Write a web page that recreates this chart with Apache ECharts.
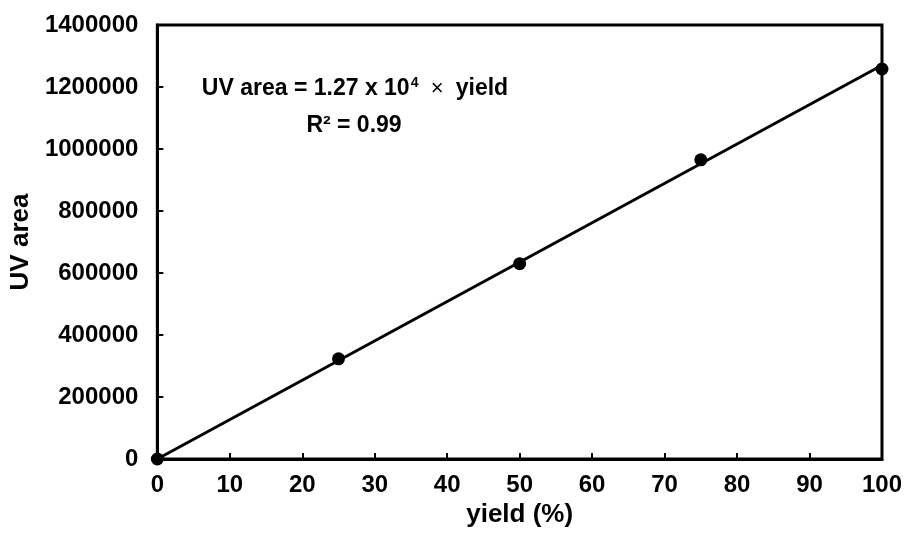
<!DOCTYPE html>
<html>
<head>
<meta charset="utf-8">
<script src="https://cdn.jsdelivr.net/npm/echarts@6/dist/echarts.min.js"></script>
<style>html,body{margin:0;padding:0;background:#fff;}#c{width:905px;height:538px;}</style>
</head>
<body>
<div id="c"></div>
<script>
var yieldVals = [0, 25, 50, 75, 100];
var uvArea = [0, 323000, 630000, 965000, 1258000];
var slope = 12700;
var fitX = [0, 100];
var eqLine1 = 'UV area = 1.27 x 10';
var eqLine2 = 'R² = 0.99';

var chart = echarts.init(document.getElementById('c'));
var font = 'Liberation Sans, Arial, sans-serif';
var pts = yieldVals.map(function(x,i){return [x, uvArea[i]];});
var fit = fitX.map(function(x){return [x, slope*x];});
chart.setOption({
  animation: false,
  grid: {left: 157, right: 21, top: 25, bottom: 79, show: true, borderColor: '#000', borderWidth: 3},
  xAxis: {
    type: 'value', min: 0, max: 100, interval: 10,
    name: 'yield (%)', nameLocation: 'middle', nameGap: 35,
    nameTextStyle: {fontFamily: font, fontWeight: 'bold', fontSize: 26, color: '#000'},
    axisLine: {show: true, lineStyle: {color: '#000', width: 3}},
    axisTick: {show: true, inside: true, length: 6, lineStyle: {color: '#000', width: 2}},
    axisLabel: {fontFamily: font, fontWeight: 'bold', fontSize: 24, color: '#000', margin: 14},
    splitLine: {show: false}
  },
  yAxis: {
    type: 'value', min: 0, max: 1400000, interval: 200000,
    name: 'UV area', nameLocation: 'middle', nameGap: 119, nameRotate: 90,
    nameTextStyle: {fontFamily: font, fontWeight: 'bold', fontSize: 26, color: '#000'},
    axisLine: {show: true, lineStyle: {color: '#000', width: 3}},
    axisTick: {show: true, inside: true, length: 6, lineStyle: {color: '#000', width: 2}},
    axisLabel: {fontFamily: font, fontWeight: 'bold', fontSize: 24, color: '#000', margin: 19,
      formatter: function(v){ return String(v); }},
    splitLine: {show: false}
  },
  series: [
    {type: 'line', data: fit, showSymbol: false, lineStyle: {color: '#000', width: 3}, z: 2},
    {type: 'scatter', data: pts, symbol: 'circle', symbolSize: 13, itemStyle: {color: '#000', opacity: 1}, z: 3}
  ],
  graphic: [
    {type: 'text', x: 355, y: 89, style: {
      align: 'center', verticalAlign: 'middle',
      rich: {
        b: {fontFamily: font, fontWeight: 'bold', fontSize: 23, fill: '#000'},
        s: {fontFamily: font, fontWeight: 'bold', fontSize: 14, fill: '#000', verticalAlign: 'top', padding: [0,0,12,1]},
        m: {fontFamily: font, fontSize: 22, fill: '#000'}
      },
      text: '{b|' + eqLine1 + '}{s|4}{m|  ×  }{b|yield}'
    }},
    {type: 'text', x: 354, y: 126, style: {align: 'center', verticalAlign: 'middle', fontFamily: font, fontWeight: 'bold', fontSize: 23, fill: '#000', text: eqLine2}}
  ]
});
</script>
</body>
</html>
